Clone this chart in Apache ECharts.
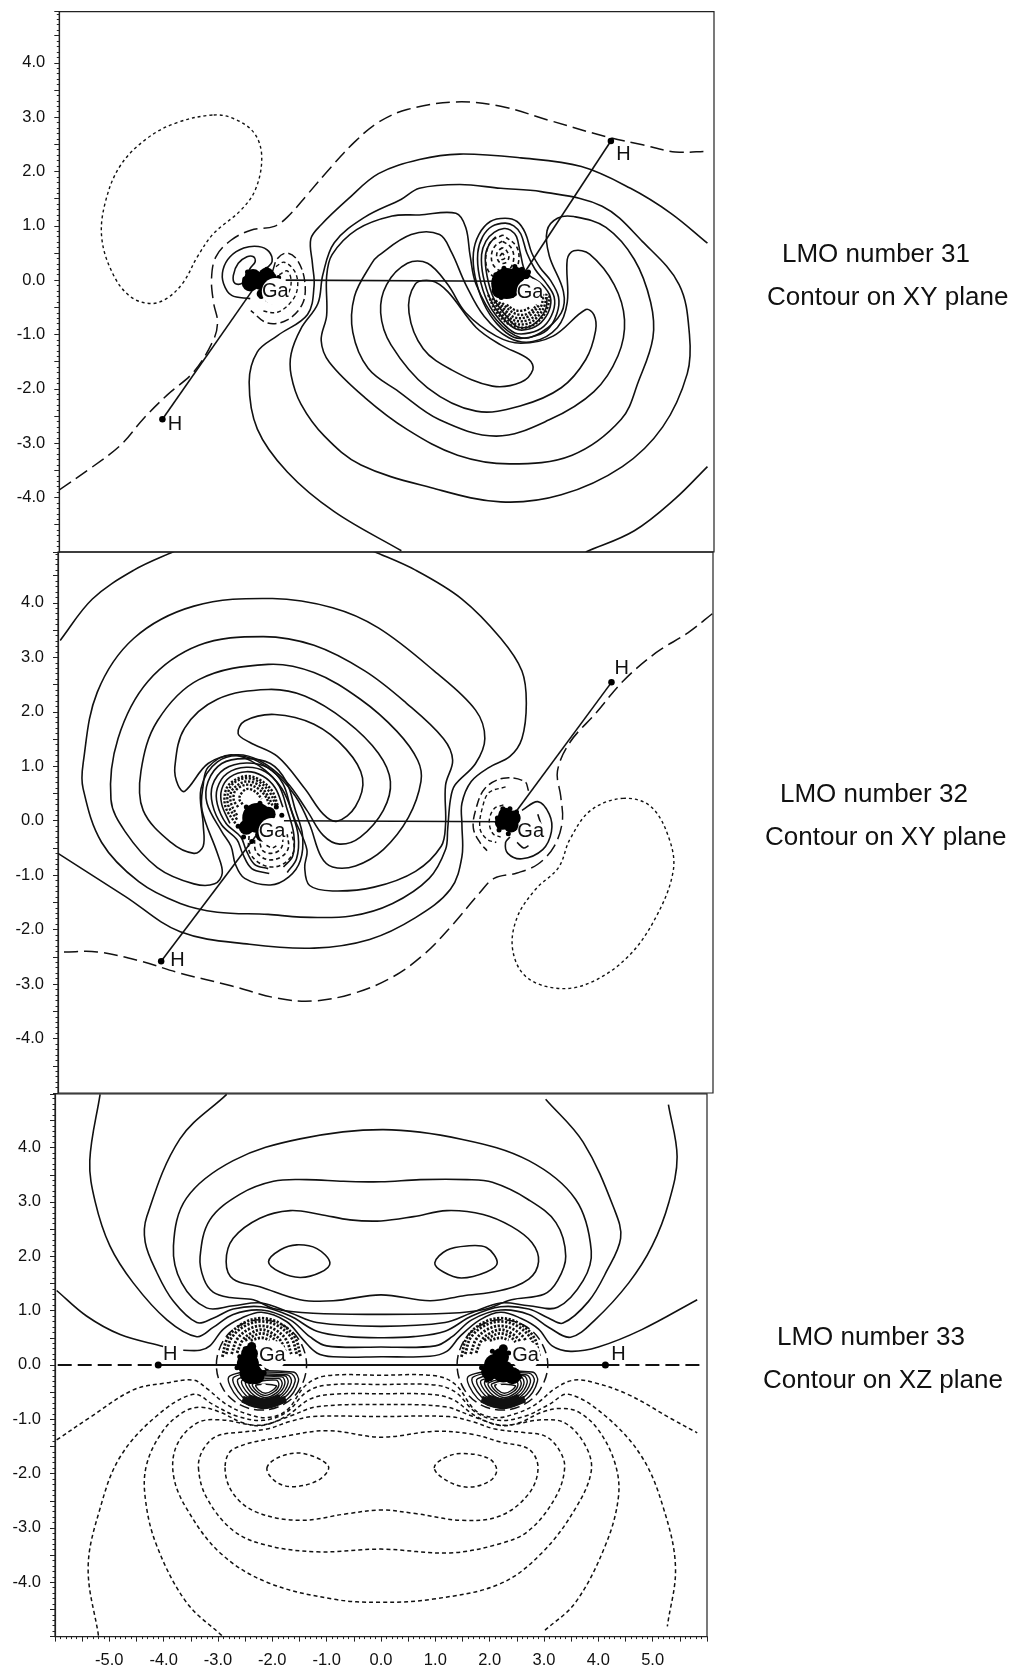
<!DOCTYPE html>
<html><head><meta charset="utf-8">
<style>html,body{margin:0;padding:0;background:#fff}#c{width:1013px;height:1670px}</style>
<script src="https://cdn.jsdelivr.net/npm/echarts@6/dist/echarts.min.js"></script>
</head><body><div id="c"></div>
<script>
// ---------- axis labels ----------
const yTickLabels=[-4,-3,-2,-1,0,1,2,3,4];
const xTickLabels=[-5,-4,-3,-2,-1,0,1,2,3,4,5];

// ---------- PANEL 1 : LMO 31, XY plane ----------
const p1Dotted=[[-3.17,3.04],[-2.80,2.97],[-2.43,2.71],[-2.29,2.28],[-2.40,1.68],[-2.67,1.29],[-3.17,0.86],[-3.47,0.43],[-3.72,-0.03],[-4.02,-0.33],[-4.33,-0.43],[-4.70,-0.30],[-5.01,0.10],[-5.22,0.76],[-5.16,1.42],[-4.88,2.11],[-4.39,2.61],[-3.84,2.90]];
const p1Node=[[-6,-3.86],[-5.44,-3.47],[-4.88,-3.04],[-4.45,-2.54],[-4.02,-2.11],[-3.53,-1.68],[-3.17,-1.09],[-3.10,-0.76],[-3.17,-0.43],[-3.21,0.03],[-3.13,0.43],[-2.86,0.73],[-2.49,0.92],[-2.06,0.99],[-1.82,1.16],[-1.45,1.58],[-1.02,2.08],[-0.59,2.54],[-0.16,2.90],[0.375,3.14],[1.27,3.28],[2.09,3.20],[2.98,2.94],[4.02,2.64],[4.69,2.49],[5.29,2.36],[5.88,2.37]];
const p1C1a=[[5.88,0.68],[5.21,1.23],[4.47,1.69],[3.57,2.09],[2.46,2.25],[1.34,2.32],[0.60,2.22],[-0.15,1.96],[-0.71,1.49],[-1.20,1.02],[-1.39,0.76],[-1.36,0.30],[-1.33,-0.10],[-1.45,-0.63],[-2.00,-1.02],[-2.37,-1.32],[-2.52,-1.88],[-2.37,-2.74],[-1.82,-3.53],[-0.96,-4.26],[0.27,-4.98]];
const p1C1b=[[3.65,-5],[4.54,-4.61],[5.29,-4.02],[5.88,-3.43]];
const p1C2=[[1.34,1.76],[2.09,1.69],[2.83,1.63],[3.95,1.36],[4.69,0.71],[5.36,-0.08],[5.55,-1.0],[5.51,-1.72],[5.06,-2.70],[4.32,-3.43],[3.20,-3.95],[2.09,-4.08],[0.82,-3.82],[-0.47,-3.40],[-1.14,-2.87],[-1.57,-2.28],[-1.75,-1.75],[-1.75,-1.35],[-1.57,-0.89],[-1.26,-0.43],[-1.17,0.10],[-0.96,0.69],[-0.40,1.16],[0.27,1.49],[0.60,1.69]];
const p1C3=[[0.60,1.20],[1.27,1.23],[1.45,0.97],[1.53,0.45],[1.64,-0.08],[2.01,-0.73],[2.46,-1.06],[2.83,-0.96],[3.20,-0.60],[3.24,-0.21],[2.98,0.45],[2.94,0.91],[3.13,1.14],[3.43,1.17],[4.02,0.97],[4.54,0.38],[4.84,-0.41],[4.88,-1.06],[4.62,-1.85],[4.30,-2.56],[3.40,-3.22],[2.25,-3.38],[1.30,-3.22],[0.38,-2.75],[-0.40,-2.16],[-1.05,-1.51],[-1.20,-1.11],[-1.10,-0.65],[-1.10,0.07],[-1.00,0.47],[-0.55,0.93],[0.10,1.18]];
const p1C4=[[-0.15,0.45],[0.45,0.84],[0.97,0.84],[1.19,0.51],[1.45,-0.08],[1.79,-0.67],[2.24,-1.06],[2.68,-1.13],[3.13,-0.87],[3.31,-0.41],[3.31,0.38],[3.43,0.54],[3.72,0.48],[4.17,-0.08],[4.36,-0.73],[4.24,-1.39],[3.80,-2.05],[2.98,-2.57],[2.01,-2.87],[0.97,-2.57],[0.22,-2.05],[-0.34,-1.62],[-0.62,-0.96],[-0.59,-0.30],[-0.28,0.30]];
const p1C5=[[0,-0.08],[0.38,0.31],[0.75,0.31],[1.12,-0.08],[1.45,-0.60],[2.01,-1.03],[2.46,-1.16],[3.05,-1.03],[3.65,-0.54],[3.80,-0.64],[3.83,-0.93],[3.65,-1.46],[3.20,-1.98],[2.46,-2.31],[1.64,-2.41],[0.75,-1.98],[0.08,-1.19],[-0.11,-0.60]];
const p1C6=[[0.41,-0.60],[0.52,-0.08],[0.82,-0.01],[1.12,-0.21],[1.64,-0.87],[2.09,-1.19],[2.61,-1.46],[2.68,-1.65],[2.46,-1.88],[1.94,-1.95],[1.19,-1.65],[0.67,-1.26]];
const p1G1=[[2.17,1.14],[1.90,1.08],[1.69,0.84],[1.59,0.50],[1.62,0.07],[1.78,-0.43],[2.02,-0.80],[2.33,-1.05],[2.63,-1.05],[2.94,-0.92],[3.12,-0.62],[3.15,-0.31],[3.0,0.0],[2.82,0.22],[2.66,0.50],[2.54,0.87],[2.39,1.08]];
const p1G2=[[2.17,1.05],[1.93,0.99],[1.76,0.80],[1.67,0.50],[1.70,0.07],[1.85,-0.40],[2.08,-0.74],[2.35,-0.97],[2.62,-0.97],[2.88,-0.85],[3.05,-0.58],[3.07,-0.31],[2.92,-0.05],[2.72,0.2],[2.57,0.5],[2.46,0.85],[2.33,1.0]];
const p1G3=[[2.15,0.95],[1.97,0.88],[1.82,0.72],[1.74,0.47],[1.77,0.07],[1.91,-0.37],[2.12,-0.68],[2.37,-0.90],[2.61,-0.90],[2.83,-0.78],[2.98,-0.55],[3.0,-0.31],[2.85,-0.08],[2.55,0.15],[2.45,0.5],[2.38,0.8],[2.27,0.92]];
const p1G4=[[2.0,0.80],[1.88,0.66],[1.81,0.45],[1.84,0.08],[1.96,-0.33],[2.16,-0.62],[2.38,-0.85],[2.6,-0.86],[2.78,-0.74],[2.92,-0.52],[2.94,-0.31]];
const p1UpperLobes=[
 [[2.13,0.83],[1.92,0.72],[1.82,0.45],[1.85,0.2],[2.0,0.05],[2.3,0.1],[2.42,0.35],[2.38,0.62],[2.13,0.83]],
 [[2.12,0.72],[1.98,0.62],[1.92,0.45],[1.96,0.27],[2.1,0.17],[2.25,0.2],[2.33,0.4],[2.28,0.6],[2.12,0.72]],
 [[2.12,0.6],[2.03,0.52],[2.02,0.42],[2.08,0.32],[2.18,0.32],[2.24,0.42],[2.2,0.54],[2.12,0.6]],
 [[2.12,0.5],[2.08,0.44],[2.12,0.38],[2.17,0.42],[2.12,0.5]]];
const p1LowerLobes=[
 [[1.86,-0.27],[2.02,-0.6],[2.3,-0.84],[2.6,-0.86],[2.82,-0.72],[2.95,-0.5],[2.99,-0.25]],
 [[1.94,-0.33],[2.09,-0.6],[2.32,-0.79],[2.59,-0.8],[2.77,-0.67],[2.89,-0.48],[2.93,-0.25]],
 [[2.0,-0.37],[2.16,-0.6],[2.34,-0.74],[2.58,-0.74],[2.74,-0.63],[2.84,-0.46],[2.87,-0.25]],
 [[2.06,-0.4],[2.2,-0.58],[2.36,-0.69],[2.57,-0.68],[2.7,-0.58],[2.8,-0.45]],
 [[2.12,-0.42],[2.25,-0.55],[2.4,-0.63],[2.55,-0.63],[2.67,-0.55],[2.75,-0.45]],
 [[2.2,-0.45],[2.35,-0.55],[2.5,-0.56],[2.63,-0.5]]];
const p1LeftO1=[[-2.50,-0.34],[-2.84,-0.28],[-2.99,-0.06],[-3.0,0.19],[-2.87,0.43],[-2.62,0.59],[-2.35,0.62],[-2.16,0.53],[-2.10,0.34],[-2.2,0.22]];
const p1LeftO2=[[-2.78,-0.06],[-2.81,0.09],[-2.72,0.31],[-2.56,0.43],[-2.44,0.43],[-2.41,0.34],[-2.50,0.22],[-2.59,0.06],[-2.65,-0.06]];
const p1LeftE1=[[-2.09,0.17],[-2.0,0.40],[-1.82,0.50],[-1.63,0.36],[-1.50,-0.03],[-1.54,-0.43],[-1.82,-0.73],[-2.18,-0.79],[-2.49,-0.56]];
const p1LeftE2=[[-2.03,0.25],[-1.88,0.33],[-1.69,0.17],[-1.63,-0.1],[-1.72,-0.36],[-2.0,-0.59],[-2.31,-0.56]];
const p1LeftE3=[[-1.97,0.10],[-1.82,0.17],[-1.75,-0.03],[-1.82,-0.26],[-2.06,-0.43],[-2.25,-0.36]];
const p1Bonds=[[[-1.85,0],[2.2,-0.02]],[[4.11,2.56],[2.5,0.1]],[[-4.11,-2.56],[-2.4,-0.1]]];
const p1Atoms=[[-4.11,-2.56],[4.11,2.56]];
const p1HText=[[-3.88,-2.66],[4.34,2.31]];
const p1BlobBig=[[2.2,-0.06]];
const p1BlobMid=[[2.38,0.08],[2.08,-0.18],[-2.2,0.07],[-2.5,-0.05],[-2.38,0.0],[-2.45,0.05],[-2.3,-0.03]];
const p1BlobSmall=[[2.55,0.1],[-2.3,-0.25],[-2.1,0.05]];
const p1BlobSpeck=[[2.6,0.15],[2.0,0.1],[1.98,-0.15],[2.1,-0.32],[2.3,-0.28],[2.35,0.25],[2.15,0.22],[2.48,0.2],[-2.6,0.02],[-2.55,0.15],[-2.2,0.2],[-1.98,0.05],[-2.3,-0.3],[-2.2,-0.15]];
const p1GaText=[[2.63,-0.22],[-2.04,-0.21]];

// ---------- PANEL 2 : LMO 32, XY plane ----------
const p2Node=[[-5.89,-2.41],[-5.28,-2.41],[-4.52,-2.57],[-3.76,-2.80],[-2.83,-3.03],[-1.98,-3.26],[-1.31,-3.31],[-0.55,-3.16],[0.13,-2.87],[0.72,-2.44],[1.23,-1.91],[1.73,-1.32],[1.99,-1.06],[2.41,-0.96],[2.79,-0.80],[3.09,-0.47],[3.24,-0.01],[3.21,0.45],[3.15,0.91],[3.38,1.44],[3.85,1.97],[4.35,2.56],[4.95,3.08],[5.54,3.45],[6.0,3.81]];
const p2Dotted=[[4.35,0.41],[4.86,0.26],[5.20,-0.34],[5.27,-0.93],[4.95,-1.78],[4.44,-2.50],[3.76,-2.97],[3.17,-3.08],[2.58,-2.87],[2.33,-2.37],[2.41,-1.78],[2.75,-1.26],[3.17,-0.86],[3.38,-0.34],[3.76,0.19]];
const p2S1a=[[-5.96,3.31],[-5.37,4.07],[-4.61,4.6],[-3.84,4.96]];
const p2S1b=[[-0.25,4.96],[0.55,4.6],[1.40,4.07],[2.11,3.35],[2.5,2.75],[2.58,2.16],[2.5,1.51],[2.28,1.18],[1.90,0.98],[1.57,0.72],[1.40,0.32],[1.40,-0.07],[1.40,-0.66],[1.19,-1.26],[0.55,-1.78],[-0.29,-2.18],[-1.31,-2.34],[-2.49,-2.27],[-3.76,-2.04],[-4.77,-1.39],[-6,-0.6]];
const p2S2=[[-2.07,4.08],[-0.97,3.91],[-0.13,3.54],[0.89,2.75],[1.65,2.03],[1.82,1.51],[1.65,1.05],[1.27,0.65],[1.19,0.39],[1.14,-0.14],[1.10,-0.53],[0.80,-1.06],[0.13,-1.52],[-0.63,-1.75],[-1.56,-1.77],[-2.15,-1.72],[-3.08,-1.68],[-3.76,-1.52],[-4.52,-1.12],[-5.20,-0.40],[-5.54,0.59],[-5.54,1.05],[-5.28,2.36],[-4.61,3.35],[-3.51,3.94]];
const p2S3=[[-2.24,3.38],[-1.31,3.22],[-0.38,2.75],[0.38,2.16],[1.06,1.51],[1.23,1.11],[1.10,0.65],[1.10,-0.07],[1.02,-0.47],[0.55,-0.93],[-0.21,-1.22],[-0.97,-1.29],[-1.39,-1.19],[-1.48,-0.86],[-1.44,-0.53],[-1.65,-0.01],[-1.90,0.59],[-2.32,1.01],[-2.83,1.21],[-3.25,0.98],[-3.34,0.65],[-3.36,0.19],[-3.08,-0.60],[-2.99,-0.96],[-3.13,-1.16],[-3.51,-1.16],[-4.18,-0.86],[-4.77,-0.20],[-5.03,0.39],[-4.90,1.51],[-4.35,2.56],[-3.42,3.22]];
const p2S4=[[-2.15,2.87],[-1.31,2.72],[-0.46,2.23],[0.21,1.64],[0.59,1.11],[0.65,0.72],[0.42,0.06],[-0.04,-0.53],[-0.55,-0.83],[-0.97,-0.85],[-1.18,-0.66],[-1.39,-0.07],[-1.65,0.45],[-2.07,0.91],[-2.58,1.18],[-3.08,1.08],[-3.38,0.59],[-3.34,-0.07],[-3.34,-0.47],[-3.51,-0.60],[-3.93,-0.40],[-4.44,0.19],[-4.48,0.91],[-4.18,1.83],[-3.42,2.59]];
const p2S5=[[-2.15,2.41],[-1.48,2.29],[-0.72,1.83],[-0.13,1.24],[0.09,0.72],[-0.04,0.19],[-0.46,-0.30],[-0.84,-0.43],[-1.14,-0.27],[-1.44,0.19],[-1.82,0.72],[-2.32,1.11],[-2.75,1.21],[-3.25,1.05],[-3.68,0.54],[-3.80,0.65],[-3.86,0.98],[-3.68,1.70],[-3.08,2.23]];
const p2S6=[[-2.03,1.95],[-1.31,1.77],[-0.72,1.31],[-0.42,0.78],[-0.55,0.26],[-0.89,-0.01],[-1.14,0.12],[-1.48,0.59],[-1.98,1.18],[-2.49,1.44],[-2.70,1.60],[-2.58,1.83]];
const p2H1=[[-2.11,-1.18],[-1.77,-1.03],[-1.56,-0.73],[-1.52,-0.27],[-1.65,0.19],[-1.82,0.72],[-2.11,1.05],[-2.58,1.14],[-3.0,1.05],[-3.25,0.72],[-3.27,0.32],[-3.0,-0.20],[-2.83,-0.47],[-2.75,-0.80],[-2.58,-1.06]];
const p2H2=[[-2.13,-0.97],[-2.45,-0.88],[-2.62,-0.6],[-2.72,-0.35],[-3.0,-0.08],[-3.17,0.3],[-3.17,0.65],[-2.95,0.95],[-2.55,1.06],[-2.15,0.97],[-1.88,0.68],[-1.73,0.2],[-1.6,-0.27],[-1.63,-0.7],[-1.8,-0.95]];
const p2H3=[[-2.15,-0.88],[-2.4,-0.8],[-2.55,-0.55],[-2.65,-0.3],[-2.92,-0.05],[-3.08,0.3],[-3.08,0.6],[-2.9,0.87],[-2.55,0.98],[-2.2,0.9],[-1.95,0.64],[-1.8,0.2],[-1.68,-0.25],[-1.7,-0.65],[-1.87,-0.85]];
const p2H4=[[-2.85,-0.05],[-3.0,0.3],[-3.0,0.58],[-2.85,0.8],[-2.55,0.9],[-2.25,0.82],[-2.02,0.6],[-1.88,0.25]];
const p2TopLobes=[
 [[-2.75,-0.05],[-2.93,0.25],[-2.93,0.55],[-2.8,0.72],[-2.55,0.82],[-2.3,0.75],[-2.08,0.55],[-1.97,0.27]],
 [[-2.72,0.02],[-2.88,0.28],[-2.88,0.53],[-2.77,0.7],[-2.55,0.78],[-2.31,0.71],[-2.12,0.52],[-2.01,0.28]],
 [[-2.72,0.1],[-2.83,0.32],[-2.83,0.52],[-2.73,0.64],[-2.55,0.72],[-2.33,0.66],[-2.17,0.48],[-2.07,0.28]],
 [[-2.7,0.25],[-2.78,0.38],[-2.75,0.55],[-2.55,0.66],[-2.35,0.6],[-2.2,0.45],[-2.13,0.3]],
 [[-2.62,0.3],[-2.68,0.42],[-2.55,0.58],[-2.38,0.53],[-2.27,0.4]]];
const p2BottomLobes=[
 [[-2.5,-0.28],[-2.5,-0.55],[-2.35,-0.75],[-2.1,-0.85],[-1.85,-0.78],[-1.68,-0.55],[-1.72,-0.2]],
 [[-2.4,-0.35],[-2.38,-0.55],[-2.25,-0.68],[-2.1,-0.72],[-1.9,-0.66],[-1.78,-0.5],[-1.8,-0.25]],
 [[-2.3,-0.42],[-2.25,-0.55],[-2.1,-0.6],[-1.95,-0.55],[-1.88,-0.42],[-1.9,-0.3]],
 [[-2.18,-0.45],[-2.08,-0.5],[-1.98,-0.45]]];
const p2RightO1=[[2.5,0.19],[2.79,0.35],[3.0,0.12],[3.04,-0.20],[2.88,-0.53],[2.50,-0.70],[2.24,-0.60],[2.2,-0.40],[2.28,-0.30]];
const p2RightShort=[[[2.41,-0.4],[2.53,-0.5],[2.62,-0.46]],[[2.79,0.12],[2.85,-0.07]]];
const p2RightE1=[[2.62,0.55],[2.55,0.72],[2.16,0.78],[1.82,0.59],[1.65,0.19],[1.61,-0.14],[1.73,-0.40],[1.86,-0.55]];
const p2RightE2=[[2.2,0.62],[1.90,0.52],[1.78,0.26],[1.73,-0.14],[1.86,-0.34],[2.03,-0.4]];
const p2RightE3=[[2.16,0.29],[1.99,0.22],[1.90,-0.01],[1.97,-0.24],[2.11,-0.30]];
const p2Bonds=[[[-1.86,0],[2.24,-0.02]],[[-4.11,-2.58],[-2.37,-0.27]],[[4.14,2.54],[2.41,0.19]]];
const p2Atoms=[[-4.11,-2.58],[4.14,2.54]];
const p2HText=[[-3.81,-2.57],[4.33,2.79]];
const p2BlobBig=[[-2.35,0.05]];
const p2BlobMid=[[-2.55,-0.12],[-2.15,0.12],[-2.25,-0.25],[2.24,0.0],[2.2,0.1],[2.3,-0.08],[2.14,-0.03],[2.34,0.05]];
const p2BlobSmall=[[-2.1,-0.3]];
const p2BlobSpeck=[[-2.0,0.25],[-1.9,0.1],[-2.3,0.32],[-2.55,0.25],[-2.7,-0.1],[-2.6,-0.3],[-2.45,-0.38],[-2.15,-0.38],[2.42,0.08],[2.4,-0.12],[2.05,0.05],[2.08,-0.17],[2.25,-0.24],[2.28,0.22],[2.15,0.22],[2.4,0.16]];
const p2GaText=[[-2.08,-0.2],[2.66,-0.2]];

// ---------- PANEL 3 : LMO 33, XZ plane ----------
const p3AL=[[-2.07,1.90],[-1.85,2.12],[-1.55,2.21],[-1.18,2.14],[-0.94,1.88],[-1.12,1.70],[-1.49,1.61],[-1.86,1.71]];
const p3AR=[[0.99,1.88],[1.21,2.11],[1.58,2.19],[1.94,2.16],[2.14,1.88],[1.94,1.71],[1.48,1.60],[1.15,1.71]];
const p3B=[[-2.85,1.90],[-2.72,2.33],[-2.23,2.70],[-1.67,2.84],[-1.12,2.77],[-0.57,2.67],[0,2.65],[0.60,2.73],[1.21,2.84],[1.88,2.77],[2.40,2.55],[2.78,2.25],[2.90,1.90],[2.72,1.58],[2.20,1.37],[1.50,1.27],[0.90,1.18],[0,1.29],[-0.88,1.18],[-1.49,1.20],[-2.23,1.44],[-2.72,1.58]];
const p3C=[[-3.33,1.99],[-3.15,2.67],[-2.60,3.14],[-1.98,3.38],[-1.37,3.41],[-0.69,3.38],[0,3.37],[0.72,3.41],[1.58,3.41],[2.05,3.36],[2.70,3.05],[3.22,2.62],[3.40,2.00],[3.25,1.55],[3.00,1.30],[2.40,1.20],[1.90,1.02],[1.25,0.95],[0,0.93],[-1.25,0.95],[-1.98,1.04],[-2.35,1.20],[-2.78,1.24],[-3.09,1.34],[-3.26,1.58]];
const p3D=[[-3.82,2.19],[-3.58,3.07],[-2.72,3.76],[-1.49,4.16],[0.04,4.33],[1.50,4.15],[2.72,3.76],[3.58,3.05],[3.87,2.10],[3.72,1.55],[3.25,1.06],[2.72,1.09],[2.20,1.14],[1.67,0.96],[1.18,0.78],[0,0.71],[-1.18,0.78],[-1.67,0.96],[-2.20,1.14],[-2.72,1.09],[-3.21,1.05],[-3.67,1.51]];
const p3E=[[-2.84,4.98],[-3.70,4.16],[-4.31,2.73],[-4.34,2.26],[-4.13,1.71],[-3.82,1.17],[-3.39,0.78],[-3.09,0.86],[-2.72,1.03],[-2.20,1.07],[-1.67,0.90],[-1.18,0.62],[-0.6,0.52],[0,0.50],[0.6,0.52],[1.18,0.62],[1.67,0.90],[2.20,1.07],[2.72,1.03],[3.09,0.86],[3.35,0.77],[3.82,1.17],[4.15,1.72],[4.41,2.33],[4.30,2.85],[3.72,4.10],[3.03,4.89]];
const p3F=[[-5.17,4.98],[-5.36,3.76],[-5.26,3.0],[-4.99,2.19],[-4.56,1.51],[-3.94,0.83],[-3.39,0.52],[-3.09,0.69],[-2.72,0.93],[-2.20,1.01],[-1.67,0.83],[-1.31,0.52],[-1.0,0.35],[0,0.33],[1.0,0.35],[1.31,0.52],[1.67,0.83],[2.20,1.01],[2.72,0.93],[3.09,0.69],[3.49,0.51],[3.94,0.83],[4.56,1.51],[4.99,2.19],[5.30,3.0],[5.45,3.83],[5.29,4.79]];
const p3GLeft=[[-5.97,1.37],[-5.42,0.90],[-4.80,0.56],[-4.01,0.34]];
const p3GMain=[[-3.64,0.27],[-3.33,0.27],[-3.15,0.35],[-2.90,0.66],[-2.57,0.86],[-2.20,0.97],[-1.74,0.80],[-1.43,0.46],[-1.18,0.22],[-0.88,0.15],[0,0.15],[0.90,0.16],[1.21,0.25],[1.45,0.52],[1.82,0.83],[2.20,0.97],[2.57,0.86],[2.90,0.66],[3.15,0.35],[3.49,0.25],[4.0,0.33],[4.80,0.65],[5.82,1.20]];
const p3aL=[[-2.10,-1.90],[-1.86,-1.69],[-1.43,-1.63],[-0.97,-1.86],[-1.12,-2.10],[-1.58,-2.24],[-1.92,-2.16]];
const p3aR=[[0.98,-1.90],[1.15,-1.72],[1.48,-1.63],[1.98,-1.72],[2.13,-1.93],[2.01,-2.13],[1.61,-2.25],[1.21,-2.13]];
const p3b=[[-2.87,-1.89],[-2.72,-2.37],[-2.29,-2.71],[-1.49,-2.86],[-0.63,-2.74],[0,-2.67],[0.66,-2.74],[1.48,-2.86],[2.19,-2.78],[2.72,-2.37],[2.89,-1.89],[2.72,-1.55],[2.2,-1.42],[1.7,-1.28],[1.02,-1.22],[0,-1.33],[-0.97,-1.21],[-1.74,-1.31],[-2.72,-1.55]];
const p3c=[[-3.36,-1.89],[-3.21,-2.44],[-2.72,-3.05],[-2.10,-3.32],[-1.18,-3.44],[0,-3.39],[1.27,-3.46],[2.19,-3.29],[2.72,-3.05],[3.21,-2.44],[3.38,-1.89],[3.27,-1.55],[3.02,-1.31],[2.6,-1.24],[2.10,-1.18],[1.67,-1.04],[1.25,-0.95],[0,-0.95],[-1.25,-0.95],[-1.67,-1.04],[-2.10,-1.18],[-2.6,-1.24],[-3.02,-1.31],[-3.27,-1.55]];
const p3d=[[-3.82,-2.03],[-3.58,-2.64],[-2.96,-3.46],[-2.10,-4.0],[-0.88,-4.31],[0,-4.37],[0.96,-4.31],[2.19,-4.03],[2.96,-3.46],[3.58,-2.64],[3.87,-1.95],[3.76,-1.48],[3.39,-1.07],[2.96,-1.01],[2.23,-1.11],[1.67,-0.94],[1.18,-0.77],[0,-0.73],[-1.18,-0.77],[-1.67,-0.94],[-2.23,-1.11],[-2.96,-1.01],[-3.39,-1.07],[-3.76,-1.48]];
const p3e=[[-2.93,-4.98],[-3.58,-4.37],[-4.13,-3.32],[-4.34,-2.44],[-4.31,-1.82],[-4.01,-1.21],[-3.64,-0.87],[-3.33,-0.78],[-2.96,-0.87],[-2.53,-1.07],[-2.17,-1.11],[-1.74,-0.94],[-1.31,-0.63],[-0.88,-0.54],[0,-0.53],[0.88,-0.54],[1.31,-0.63],[1.74,-0.94],[2.17,-1.11],[2.53,-1.07],[2.96,-0.87],[3.30,-0.80],[3.64,-0.87],[4.01,-1.21],[4.31,-1.82],[4.37,-2.43],[4.13,-3.32],[3.58,-4.37],[3.0,-4.90]];
const p3f=[[-5.20,-4.98],[-5.39,-3.73],[-5.17,-2.64],[-4.80,-1.69],[-4.13,-0.94],[-3.45,-0.54],[-3.09,-0.73],[-2.66,-0.94],[-2.17,-1.02],[-1.74,-0.87],[-1.37,-0.50],[-1.0,-0.37],[0,-0.36],[1.0,-0.37],[1.37,-0.50],[1.74,-0.87],[2.17,-1.02],[2.66,-0.94],[3.09,-0.73],[3.45,-0.54],[4.13,-0.94],[4.80,-1.69],[5.20,-2.64],[5.42,-3.72],[5.27,-4.81]];
const p3g=[[-5.97,-1.38],[-5.36,-0.97],[-4.56,-0.46],[-3.94,-0.33],[-3.45,-0.28],[-3.21,-0.43],[-2.84,-0.73],[-2.47,-0.90],[-2.10,-0.97],[-1.74,-0.84],[-1.37,-0.36],[-1.0,-0.20],[0,-0.19],[1.0,-0.20],[1.37,-0.36],[1.74,-0.84],[2.10,-0.97],[2.47,-0.90],[2.84,-0.73],[3.21,-0.43],[3.55,-0.28],[3.94,-0.33],[4.56,-0.55],[5.36,-1.0],[5.82,-1.25]];
const p3RingL=[[-3.03,0],[-2.9,0.45],[-2.6,0.73],[-2.2,0.83],[-1.8,0.73],[-1.5,0.45],[-1.37,0],[-1.5,-0.45],[-1.8,-0.73],[-2.2,-0.83],[-2.6,-0.73],[-2.9,-0.45]];
const p3RingR=[[1.40,0],[1.53,0.45],[1.83,0.73],[2.23,0.83],[2.63,0.73],[2.93,0.45],[3.07,0],[2.93,-0.45],[2.63,-0.73],[2.23,-0.83],[1.83,-0.73],[1.53,-0.45]];
const p3TopArcsL=[
 [[-2.92,0.15],[-2.82,0.5],[-2.55,0.76],[-2.2,0.86],[-1.85,0.76],[-1.58,0.5],[-1.48,0.15]],
 [[-2.85,0.2],[-2.75,0.5],[-2.5,0.72],[-2.2,0.8],[-1.9,0.72],[-1.65,0.5],[-1.55,0.2]],
 [[-2.75,0.2],[-2.65,0.47],[-2.45,0.65],[-2.2,0.72],[-1.95,0.65],[-1.75,0.47],[-1.65,0.2]],
 [[-2.65,0.22],[-2.55,0.45],[-2.4,0.58],[-2.2,0.65],[-2.0,0.58],[-1.85,0.45],[-1.75,0.22]],
 [[-2.5,0.45],[-2.38,0.52],[-2.2,0.58],[-2.02,0.52],[-1.92,0.42]],
 [[-2.4,0.45],[-2.2,0.5],[-2.05,0.46]]];
const p3TopArcsR=[
 [[1.48,0.15],[1.58,0.5],[1.85,0.76],[2.2,0.86],[2.55,0.76],[2.82,0.5],[2.92,0.15]],
 [[1.55,0.2],[1.65,0.5],[1.9,0.72],[2.2,0.8],[2.5,0.72],[2.75,0.5],[2.85,0.2]],
 [[1.65,0.2],[1.75,0.47],[1.95,0.65],[2.2,0.72],[2.45,0.65],[2.65,0.47],[2.75,0.2]],
 [[1.75,0.22],[1.85,0.45],[2.0,0.58],[2.2,0.65],[2.4,0.58],[2.55,0.45],[2.65,0.22]],
 [[1.9,0.45],[2.02,0.52],[2.2,0.58],[2.38,0.52],[2.48,0.42]],
 [[2.0,0.45],[2.2,0.5],[2.35,0.46]]];
const p3LowArcsL=[
 [[-2.78,-0.2],[-2.62,-0.62],[-2.2,-0.79],[-1.75,-0.65],[-1.52,-0.3],[-1.62,-0.13]],
 [[-2.7,-0.22],[-2.55,-0.59],[-2.18,-0.75],[-1.8,-0.62],[-1.58,-0.3],[-1.68,-0.15]],
 [[-2.62,-0.25],[-2.49,-0.56],[-2.17,-0.71],[-1.84,-0.59],[-1.65,-0.32],[-1.73,-0.18]],
 [[-2.55,-0.28],[-2.44,-0.53],[-2.16,-0.67],[-1.87,-0.57],[-1.71,-0.33],[-1.78,-0.2]],
 [[-2.48,-0.3],[-2.39,-0.51],[-2.15,-0.63],[-1.9,-0.54],[-1.77,-0.35],[-1.83,-0.22]],
 [[-2.42,-0.33],[-2.34,-0.49],[-2.14,-0.6],[-1.93,-0.52],[-1.82,-0.36],[-1.88,-0.25]],
 [[-2.36,-0.35],[-2.3,-0.47],[-2.14,-0.56],[-1.96,-0.49],[-1.88,-0.37],[-1.93,-0.28]],
 [[-2.3,-0.37],[-2.25,-0.46],[-2.13,-0.52],[-2.0,-0.47],[-1.93,-0.38]]];
const p3LowArcsR=[
 [[1.62,-0.2],[1.78,-0.62],[2.2,-0.79],[2.65,-0.65],[2.88,-0.3],[2.78,-0.13]],
 [[1.7,-0.22],[1.85,-0.59],[2.22,-0.75],[2.6,-0.62],[2.82,-0.3],[2.72,-0.15]],
 [[1.78,-0.25],[1.91,-0.56],[2.23,-0.71],[2.56,-0.59],[2.75,-0.32],[2.67,-0.18]],
 [[1.85,-0.28],[1.96,-0.53],[2.24,-0.67],[2.53,-0.57],[2.69,-0.33],[2.62,-0.2]],
 [[1.92,-0.3],[2.01,-0.51],[2.25,-0.63],[2.5,-0.54],[2.63,-0.35],[2.57,-0.22]],
 [[1.98,-0.33],[2.06,-0.49],[2.26,-0.6],[2.47,-0.52],[2.58,-0.36],[2.52,-0.25]],
 [[2.04,-0.35],[2.1,-0.47],[2.26,-0.56],[2.44,-0.49],[2.52,-0.37],[2.47,-0.28]],
 [[2.1,-0.37],[2.15,-0.46],[2.27,-0.52],[2.4,-0.47],[2.47,-0.38]]];
const p3HeavyArcs=[[[-2.55,-0.63],[-2.15,-0.75],[-1.75,-0.63]],[[-2.45,-0.6],[-2.15,-0.68],[-1.85,-0.6]],[[1.85,-0.63],[2.25,-0.75],[2.65,-0.63]],[[1.95,-0.6],[2.25,-0.68],[2.55,-0.6]]];
const p3AxisDashLeft=[[-5.95,0],[-4.10,0]];
const p3AxisSolid=[[-4.10,0],[2.80,0]];
const p3AxisDashRight=[[4.13,0],[5.93,0]];
const p3AxisSolidRight=[[2.80,0],[4.13,0]];
const p3Atoms=[[-4.10,0],[4.13,0]];
const p3HText=[[-3.88,0.2],[4.37,0.2]];
const p3BlobBig=[[-2.45,0.02],[-2.4,-0.15],[2.25,-0.12],[2.1,0.0]];
const p3BlobMid=[[-2.42,0.2],[-2.3,-0.2],[2.2,0.15],[2.0,-0.12],[2.42,-0.2]];
const p3BlobSmall=[[-2.55,0.05],[-2.38,0.34],[2.25,0.3],[2.0,-0.22]];
const p3BlobSpeck=[[-2.5,0.3],[-2.65,-0.05],[-2.6,0.15],[-2.5,-0.25],[-2.15,-0.15],[-2.1,-0.05],[2.35,0.22],[2.05,0.25],[1.85,-0.05],[2.5,-0.12],[2.55,-0.22],[1.95,-0.28]];
const p3Spots=[[-2.16,-0.39],[2.17,-0.39]];
const p3GaText=[[-2.0,0.18],[2.66,0.18]];

// ---------- side captions ----------
const captions=["LMO number 31","Contour on XY plane","LMO number 32","Contour on XY plane","LMO number 33","Contour on XZ plane"];

// ---------- drawing helpers ----------
const INK='#111';
// one spline path through the read points, placed by the axes via api.coord
function splinePath(pts,isClosed){
  const n=pts.length,S=0.36,f=v=>v.toFixed(2);
  const at=i=>isClosed?pts[(i+n)%n]:pts[Math.max(0,Math.min(n-1,i))];
  const tang=i=>{const p=at(i-1),c=at(i),q=at(i+1);
    const a=Math.hypot(c[0]-p[0],c[1]-p[1]),b=Math.hypot(q[0]-c[0],q[1]-c[1]),r=(a+b)?b/(a+b):0.5;
    return {vx:(q[0]-p[0])*S,vy:(q[1]-p[1])*S,r};};
  let d='M'+f(pts[0][0])+' '+f(pts[0][1]);
  const segs=isClosed?n:n-1;
  for(let i=0;i<segs;i++){
    const a=at(i),b=at(i+1),ta=tang(i),tb=tang(i+1);
    d+='C'+f(a[0]+ta.vx*ta.r)+' '+f(a[1]+ta.vy*ta.r)+' '+f(b[0]-tb.vx*(1-tb.r))+' '+f(b[1]-tb.vy*(1-tb.r))+' '+f(b[0])+' '+f(b[1]);
  }
  return d+(isClosed?'Z':'');
}
const curve=(g,d,type,w,isClosed)=>({type:'custom',coordinateSystem:'cartesian2d',xAxisIndex:g,yAxisIndex:g,data:d,encode:{x:0,y:1},silent:true,animation:false,clip:true,z:2,
  renderItem:(params,api)=>{
    if(params.dataIndex!==0) return null;
    const px=d.map(p=>api.coord(p));
    return {type:'path',shape:{pathData:splinePath(px,isClosed)},
      style:{fill:'none',stroke:INK,lineWidth:w||1.6,lineDash:Array.isArray(type)?type:null,lineCap:'butt',lineJoin:'round'}};
  }});
const line=(g,d,type,w)=>curve(g,d,type,w,false);
const loop=(g,d,type,w)=>curve(g,d,type,w,true);
const straight=(g,d,type,w)=>({type:'line',xAxisIndex:g,yAxisIndex:g,data:d,symbol:'none',silent:true,animation:false,z:2,smooth:false,lineStyle:{color:INK,width:w||1.4,type:type||'solid'}});
const SHORT=[4,3],DOT=[3,3],LONG=[14,6],DENSE=[2.2,1.6];
const dots=(g,d,size,color,z)=>({type:'scatter',xAxisIndex:g,yAxisIndex:g,data:d,symbol:'circle',symbolSize:size,silent:true,animation:false,z:z||3,itemStyle:{color:color||'#000',opacity:1}});
const text=(g,d,str,bg)=>({type:'scatter',xAxisIndex:g,yAxisIndex:g,data:d,symbol:'circle',symbolSize:bg||0,silent:true,animation:false,z:6,itemStyle:{color:'#fff',opacity:1},
  label:{show:true,position:'inside',formatter:str,color:INK,fontFamily:'Liberation Sans',fontSize:20}});

const series=[];
// panel 1
[p1C1a,p1C1b,p1LeftO1,p1G4].forEach(a=>series.push(line(0,a)));
[p1C2,p1C3,p1C4,p1C5,p1C6,p1G1,p1G2,p1G3,p1LeftO2].forEach(a=>series.push(loop(0,a)));
series.push(loop(0,p1Dotted,DOT,1.4));
series.push(line(0,p1Node,LONG,1.5));
series.push(line(0,p1LeftE1,[9,4],1.5));
[p1LeftE2,p1LeftE3].forEach(a=>series.push(line(0,a,SHORT,1.4)));
p1UpperLobes.forEach(a=>series.push(line(0,a,SHORT,1.6)));
p1LowerLobes.forEach(a=>series.push(line(0,a,DENSE,2.4)));
p1Bonds.forEach(a=>series.push(straight(0,a,'solid',1.6)));
series.push(dots(0,p1Atoms,6.5),dots(0,p1BlobBig,31),dots(0,p1BlobMid,17),dots(0,p1BlobSmall,9),dots(0,p1BlobSpeck,5));
series.push(text(0,p1HText,'H'),text(0,p1GaText,'Ga',27));
// panel 2
[p2S1a,p2S1b,p2RightO1,p2H2,p2H3,p2H4].forEach(a=>series.push(line(1,a)));
[p2H1,p2S2,p2S3,p2S4,p2S5,p2S6].forEach(a=>series.push(loop(1,a)));
series.push(loop(1,p2Dotted,DOT,1.4));
series.push(line(1,p2Node,LONG,1.5));
series.push(line(1,p2RightE1,[9,4],1.5));
[p2RightE2,p2RightE3].forEach(a=>series.push(line(1,a,SHORT,1.4)));
p2RightShort.forEach(a=>series.push(line(1,a)));
p2TopLobes.forEach(a=>series.push(line(1,a,DENSE,2.4)));
p2BottomLobes.forEach(a=>series.push(line(1,a,SHORT,1.6)));
p2Bonds.forEach(a=>series.push(straight(1,a,'solid',1.6)));
series.push(dots(1,p2Atoms,6.5),dots(1,p2BlobBig,30),dots(1,p2BlobMid,15),dots(1,p2BlobSmall,9),dots(1,p2BlobSpeck,5));
series.push(text(1,p2HText,'H'),text(1,p2GaText,'Ga',27));
// panel 3
[p3AL,p3AR,p3B,p3C,p3D].forEach(a=>series.push(loop(2,a)));
[p3E,p3F,p3GLeft,p3GMain].forEach(a=>series.push(line(2,a)));
[p3aL,p3aR,p3b,p3c,p3d].forEach(a=>series.push(loop(2,a,SHORT,1.5)));
[p3e,p3f,p3g].forEach(a=>series.push(line(2,a,SHORT,1.5)));
[p3RingL,p3RingR].forEach(a=>series.push(loop(2,a,[10,5],1.5)));
[p3TopArcsL,p3TopArcsR].forEach(g=>g.forEach(a=>series.push(line(2,a,DENSE,2.8))));
[p3LowArcsL,p3LowArcsR].forEach(g=>g.forEach(a=>series.push(loop(2,a,null,1.4))));
p3HeavyArcs.forEach(a=>series.push(line(2,a,null,7)));
series.push(straight(2,p3AxisDashLeft,LONG,1.9),straight(2,p3AxisDashRight,LONG,1.9),straight(2,p3AxisSolid,'solid',1.9),straight(2,p3AxisSolidRight,'solid',1.9));
series.push(dots(2,p3Atoms,7),dots(2,p3BlobBig,22),dots(2,p3BlobMid,17),dots(2,p3BlobSmall,9),dots(2,p3BlobSpeck,5),dots(2,p3Spots,5,'#fff',4));
series.push(text(2,p3HText,'H'),text(2,p3GaText,'Ga',29));

// ---------- axes ----------
const fmtY=v=>yTickLabels.includes(v)?v.toFixed(1):'';
const fmtX=v=>xTickLabels.includes(v)?v.toFixed(1):'';
const lab={color:INK,fontFamily:'Liberation Sans',fontSize:16.5};
const grids=[{left:59.3,top:11.7,width:654.7,height:540.2},{left:58,top:552.2,width:655,height:540.8},{left:55,top:1093.8,width:652,height:542.8}];
const grid=grids.map(g=>Object.assign({show:true,borderColor:'#222',borderWidth:1.2,backgroundColor:'transparent',containLabel:false},g));
const yMax=[4.94,4.93,4.99];
const yAxis=yMax.map((m,i)=>({type:'value',gridIndex:i,min:-5,max:m,interval:0.5,splitLine:{show:false},
  axisLine:{show:true,onZero:false,lineStyle:{color:'#222',width:1.2}},axisTick:{show:true,length:5,lineStyle:{color:'#222',width:1}},
  minorTick:{show:true,splitNumber:5,length:2.5,lineStyle:{color:'#222',width:1}},minorSplitLine:{show:false},
  axisLabel:Object.assign({show:true,margin:14,formatter:fmtY,showMinLabel:true,showMaxLabel:true,hideOverlap:false},lab)}));
const xAxis=[0,1,2].map(i=>({type:'value',min:-6,max:6,interval:0.5,gridIndex:i,splitLine:{show:false},
  axisLine:{show:i===2,onZero:false,lineStyle:{color:'#222',width:1.2}},axisTick:{show:i===2,length:5,lineStyle:{color:'#222',width:1}},
  minorTick:{show:i===2,splitNumber:5,length:2.5,lineStyle:{color:'#222',width:1}},
  axisLabel:Object.assign({show:i===2,margin:15,formatter:fmtX,hideOverlap:false},lab)}));

const capPos=[[782,255],[767,298],[780,795],[765,838],[777,1338],[763,1381]];
const graphic=captions.map((t,i)=>({type:'text',x:capPos[i][0],y:capPos[i][1],silent:true,
  style:{text:t,fill:INK,font:'26px "Liberation Sans"',textVerticalAlign:'middle',textAlign:'left'}}));

const chart=echarts.init(document.getElementById('c'),null,{renderer:'canvas',width:1013,height:1670});
chart.setOption({animation:false,backgroundColor:'#fff',grid,xAxis,yAxis,series,graphic});
</script></body></html>
